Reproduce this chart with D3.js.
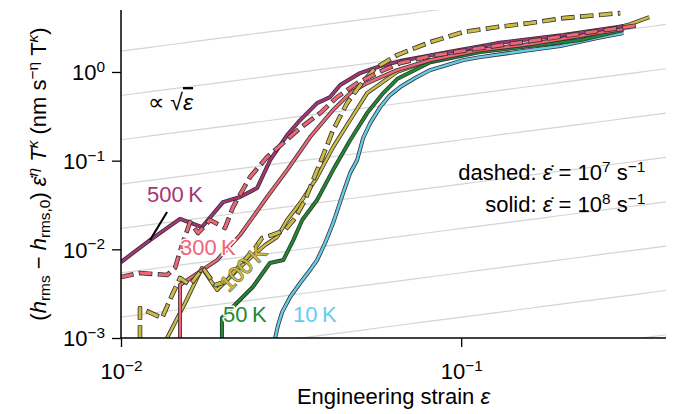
<!DOCTYPE html>
<meta charset="utf-8">
<style>
body { margin: 0; background: #fff; }
svg { font-family: "Liberation Sans", Arial, sans-serif; }
.domain { stroke-width: 1.5px; }
.tick line { stroke-width: 1.3px; }
</style>
<body>
<script src="https://cdn.jsdelivr.net/npm/d3@7"></script>
<script>

// 10 K, solid (rate 1e8)
var strain10K = [0.02838, 0.02896, 0.02976, 0.03142, 0.03362, 0.03597, 0.03771, 0.03981, 0.04203, 0.04497, 0.04716, 0.04945, 0.0515, 0.054, 0.0578, 0.0618, 0.0662, 0.0732, 0.0811, 0.1014, 0.1137, 0.1596, 0.1955, 0.2512, 0.2996];
var h10K = [0.001, 0.0014, 0.00196, 0.0029, 0.00417, 0.00585, 0.00757, 0.01178, 0.0198, 0.0431, 0.0725, 0.1016, 0.18, 0.265, 0.402, 0.549, 0.676, 0.854, 1.05, 1.36, 1.47, 1.77, 1.96, 2.41, 2.75];

// 50 K, solid
var strain50K = [0.0198, 0.0198, 0.0219, 0.0244, 0.0274, 0.03, 0.0321, 0.0341, 0.0377, 0.042, 0.0472, 0.0529, 0.059, 0.0648, 0.0811, 0.1137, 0.1596, 0.2239, 0.2996];
var h50K = [0.001, 0.00168, 0.00248, 0.00376, 0.00701, 0.00757, 0.0127, 0.0214, 0.036, 0.0783, 0.171, 0.344, 0.578, 0.832, 1.29, 1.68, 1.96, 2.29, 2.97];

// 100 K, solid
var strain100K = [0.01366, 0.01543, 0.0173, 0.01916, 0.02164, 0.02395, 0.02652, 0.02877, 0.03078, 0.03362, 0.03771, 0.04203, 0.04716, 0.0529, 0.0648, 0.0811, 0.1137, 0.1596, 0.2512, 0.3142, 0.3573];
var h100K = [0.001, 0.00248, 0.00616, 0.00348, 0.00555, 0.00798, 0.01118, 0.01376, 0.0214, 0.0333, 0.0653, 0.1423, 0.287, 0.578, 1.0, 1.36, 1.77, 2.06, 2.75, 3.47, 4.16];

// 100 K, dashed (rate 1e7)
var strain100Kd = [0.01137, 0.01137, 0.0132, 0.01413, 0.01491, 0.01596, 0.01742, 0.0189, 0.02022, 0.02239, 0.02478, 0.02598, 0.02782, 0.03037, 0.0325, 0.03477, 0.0367, 0.039, 0.042, 0.0462, 0.0505, 0.0559, 0.0648, 0.0811, 0.1014, 0.1276, 0.1596, 0.1995, 0.2512, 0.2936];
var h100Kd = [0.001, 0.00218, 0.00168, 0.00305, 0.00475, 0.00396, 0.00616, 0.00396, 0.00428, 0.00665, 0.01034, 0.01341, 0.0145, 0.01651, 0.02254, 0.036, 0.0604, 0.107, 0.221, 0.446, 0.712, 1.107, 1.551, 2.17, 2.82, 3.21, 3.56, 4.05, 4.38, 4.61];

// 300 K, solid
var strain300K = [0.01491, 0.01491, 0.01916, 0.02239, 0.02688, 0.03078, 0.03597, 0.042, 0.04716, 0.0529, 0.0648, 0.0811, 0.1137, 0.1596, 0.2512, 0.2996];
var h300K = [0.001, 0.00396, 0.00757, 0.0145, 0.0389, 0.0783, 0.1845, 0.372, 0.578, 0.75, 1.05, 1.36, 1.77, 2.06, 2.75, 3.05];

// 300 K, dashed
var strain300Kd = [0.01, 0.01137, 0.01366, 0.01441, 0.01512, 0.01596, 0.01685, 0.01827, 0.02022, 0.02135, 0.02395, 0.02688, 0.02996, 0.03362, 0.03848, 0.04319, 0.04945, 0.059, 0.0662, 0.0811, 0.1137, 0.1596, 0.2512, 0.3362];
var h300Kd = [0.00487, 0.00541, 0.00513, 0.00616, 0.01118, 0.0203, 0.01527, 0.0214, 0.01739, 0.03, 0.0653, 0.1098, 0.1579, 0.2331, 0.344, 0.521, 0.75, 1.05, 1.26, 1.51, 1.86, 2.23, 2.89, 3.38];

// 500 K, solid
var strain500K = [0.01, 0.01217, 0.01491, 0.0173, 0.01995, 0.02239, 0.02512, 0.02744, 0.03078, 0.03362, 0.03771, 0.04118, 0.04407, 0.05046, 0.0578, 0.0662, 0.091, 0.1276, 0.1995, 0.2996];
var h500K = [0.00719, 0.0127, 0.022, 0.01784, 0.0341, 0.0389, 0.0491, 0.1016, 0.194, 0.287, 0.446, 0.521, 0.712, 0.972, 1.166, 1.327, 1.676, 2.117, 2.61, 3.29];

// sqrt(strain) guide lines: y = c * sqrt(strain)
var guideCoefs = [0.00172, 0.00543, 0.0172, 0.0543, 0.172, 0.543, 1.72, 5.43, 17.2];

var xMajor = [0.01, 0.1];
var xMinor = [0.02, 0.03, 0.04, 0.05, 0.06, 0.07, 0.08, 0.09, 0.2, 0.3, 0.4];
var yMajor = [0.001, 0.01, 0.1, 1];
var yMinor = [0.002, 0.003, 0.004, 0.005, 0.006, 0.007, 0.008, 0.009,
              0.02, 0.03, 0.04, 0.05, 0.06, 0.07, 0.08, 0.09,
              0.2, 0.3, 0.4, 0.5, 0.6, 0.7, 0.8, 0.9, 2, 3, 4, 5];

var width = 677, height = 414;
var mLeft = 121, mRight = 666, mTop = 10, mBottom = 338;

var x = d3.scaleLog().domain([0.01, 0.4]).range([mLeft, mRight]);
var y = d3.scaleLog().domain([0.001, 5]).range([mBottom, mTop]);

var svg = d3.select("body").append("svg")
    .attr("width", width)
    .attr("height", height);

svg.append("clipPath").attr("id", "plot")
  .append("rect")
    .attr("x", mLeft).attr("y", mTop)
    .attr("width", mRight - mLeft).attr("height", mBottom - mTop);

// writes text with sub/superscripts as tspans
function rich(sel, parts, fs) {
  var cur = 0;
  parts.forEach(function (p) {
    var shift = p.sup ? -0.38 : p.sub ? 0.2 : 0;
    var ts = sel.append("tspan").text(p.t)
        .attr("font-size", (p.sup || p.sub) ? fs * 0.7 : fs);
    if (shift != cur) ts.attr("dy", (shift - cur) * fs);
    if (p.i) ts.attr("font-style", "italic");
    cur = shift;
  });
}

// guide lines
var gx = d3.range(0, 41).map(function (i) { return 0.01 * Math.pow(40, i / 40); });
svg.append("g").attr("clip-path", "url(#plot)")
  .selectAll("path").data(guideCoefs).enter().append("path")
    .attr("fill", "none")
    .attr("stroke", "#d4d4d4")
    .attr("stroke-width", 1.2)
    .attr("d", function (c) {
      return d3.line()(gx.map(function (s) { return [x(s), y(c * Math.sqrt(s))]; }));
    });

var series = [
  {s: strain10K, h: h10K, color: "#66CCEE", dashed: false},
  {s: strain50K, h: h50K, color: "#228833", dashed: false},
  {s: strain100K, h: h100K, color: "#CCBB44", dashed: false},
  {s: strain300K, h: h300K, color: "#EE6677", dashed: false},
  {s: strain500K, h: h500K, color: "#AA3377", dashed: false},
  {s: strain100Kd, h: h100Kd, color: "#CCBB44", dashed: true},
  {s: strain300Kd, h: h300Kd, color: "#EE6677", dashed: true}
];

var line = d3.line()
    .x(function (d) { return x(d[0]); })
    .y(function (d) { return y(d[1]); });

var curves = svg.append("g").attr("clip-path", "url(#plot)");
series.forEach(function (d) {
  var pts = d3.zip(d.s, d.h);
  var w = d.dashed ? 3 : 2.4;
  curves.append("path")
      .attr("d", line(pts))
      .attr("fill", "none")
      .attr("stroke", "#333")
      .attr("stroke-width", w + 1.6)
      .attr("stroke-linejoin", "round")
      .attr("stroke-dasharray", d.dashed ? "13.6 5.4" : null)
      .attr("stroke-dashoffset", d.dashed ? 0.8 : null);
  curves.append("path")
      .attr("d", line(pts))
      .attr("fill", "none")
      .attr("stroke", d.color)
      .attr("stroke-width", w)
      .attr("stroke-linejoin", "round")
      .attr("stroke-dasharray", d.dashed ? "12 7" : null);
});

// leader line for 500 K
svg.append("line")
    .attr("x1", x(0.01217)).attr("y1", y(0.0127))
    .attr("x2", x(0.01366)).attr("y2", y(0.0263))
    .attr("stroke", "#000").attr("stroke-width", 2);

// axes
var fs = 22;
function supLabel(sel) {
  sel.each(function (d) {
    var t = d3.select(this).text("");
    var e = Math.round(Math.log10(d));
    rich(t, [{t: "10"}, {t: (e < 0 ? "\u2212" + (-e) : "" + e), sup: 1}], fs);
  });
}

var xa = svg.append("g").attr("transform", "translate(0," + mBottom + ")");
xa.call(d3.axisBottom(x).tickValues(xMinor).tickSize(5).tickFormat(""));
xa.call(d3.axisBottom(x).tickValues(xMajor).tickSize(9).tickPadding(10));
xa.selectAll(".tick text").attr("font-size", fs).attr("fill", "#000").attr("dy", null)
    .attr("y", 41).call(supLabel);
xa.selectAll(".domain").attr("d", "M" + mLeft + ",0H" + mRight);

var ya = svg.append("g").attr("transform", "translate(" + mLeft + ",0)");
ya.call(d3.axisLeft(y).tickValues(yMinor).tickSize(4.5).tickFormat(""));
ya.call(d3.axisLeft(y).tickValues(yMajor).tickSize(9).tickPadding(7));
ya.selectAll(".tick text").attr("font-size", fs).attr("fill", "#000").attr("dy", "0.36em")
    .call(supLabel);
ya.selectAll(".domain").attr("d", "M0," + mTop + "V" + mBottom);
svg.selectAll(".tick line, .domain").attr("stroke", "#000");

// axis labels
var xl = svg.append("text")
    .attr("x", (mLeft + mRight) / 2).attr("y", 404)
    .attr("text-anchor", "middle").attr("font-size", 22);
rich(xl, [{t: "Engineering strain "}, {t: "\u03b5", i: 1}], 22);

var yl = svg.append("text")
    .attr("transform", "translate(46," + ((mTop + mBottom) / 2) + ") rotate(-90)")
    .attr("text-anchor", "middle").attr("font-size", 22);
rich(yl, [{t: "("}, {t: "h", i: 1}, {t: "rms", sub: 1}, {t: " \u2212 "}, {t: "h", i: 1},
          {t: "rms,0", sub: 1}, {t: ") "}, {t: "\u03b5\u0307", i: 1}, {t: "\u03b7", i: 1, sup: 1},
          {t: " "}, {t: "T", i: 1}, {t: "\u03ba", i: 1, sup: 1}, {t: " (nm s"},
          {t: "\u2212\u03b7", sup: 1}, {t: " T"}, {t: "\u03ba", i: 1, sup: 1}, {t: ")"}], 22);

// annotations
var a1 = svg.append("text").attr("x", x(0.3475)).attr("y", y(0.0604))
    .attr("text-anchor", "end").attr("font-size", 22);
rich(a1, [{t: "dashed: "}, {t: "\u03b5\u0307", i: 1}, {t: " = 10"}, {t: "7", sup: 1},
          {t: " s"}, {t: "\u22121", sup: 1}], 22);
var a2 = svg.append("text").attr("x", x(0.3475)).attr("y", y(0.0263))
    .attr("text-anchor", "end").attr("font-size", 22);
rich(a2, [{t: "solid: "}, {t: "\u03b5\u0307", i: 1}, {t: " = 10"}, {t: "8", sup: 1},
          {t: " s"}, {t: "\u22121", sup: 1}], 22);

var a3 = svg.append("text").attr("x", x(0.012)).attr("y", y(0.372)).attr("font-size", 23);
a3.append("tspan").text("\u221d \u221a");
a3.append("tspan").text("\u03b5").attr("font-style", "italic").style("text-decoration", "overline");

// temperature labels
var tempLabels = [
  {t: "500\u2009K", s: 0.01193, h: 0.0341, color: "#AA3377", halo: null, rot: 0},
  {t: "300\u2009K", s: 0.01491, h: 0.00863, color: "#EE6677", halo: "#fff", rot: 0},
  {t: "100\u2009K", s: 0.02285, h: 0.00616, color: "#CCBB44", halo: "#6b6330", rot: -45},
  {t: "50\u2009K", s: 0.01995, h: 0.001515, color: "#228833", halo: "#fff", rot: 0},
  {t: "10\u2009K", s: 0.03206, h: 0.001515, color: "#66CCEE", halo: "#fff", rot: 0}
];
tempLabels.forEach(function (d) {
  var t = svg.append("text")
      .attr("font-size", 22)
      .attr("fill", d.color)
      .text(d.t);
  if (d.rot) {
    t.attr("text-anchor", "middle").attr("dominant-baseline", "central")
     .attr("transform", "translate(" + x(d.s) + "," + y(d.h) + ") rotate(" + d.rot + ")");
  } else {
    t.attr("x", x(d.s)).attr("y", y(d.h));
  }
  if (d.halo) {
    t.attr("stroke", d.halo).attr("stroke-width", d.halo == "#fff" ? 3 : 1.2)
     .attr("paint-order", "stroke").attr("stroke-linejoin", "round");
  }
});

</script>
